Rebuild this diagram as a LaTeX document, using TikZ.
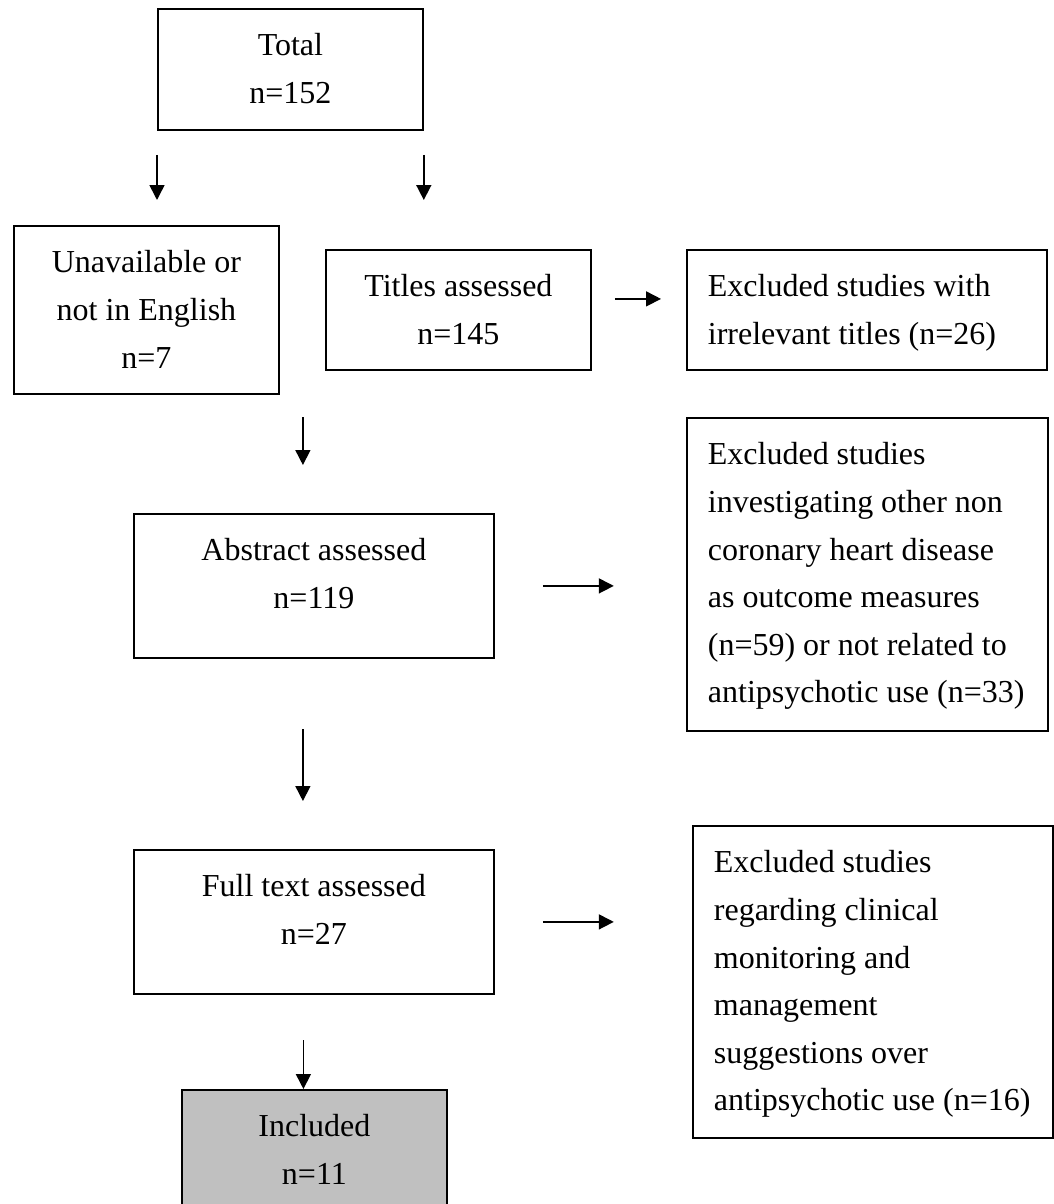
\documentclass[tikz,border=0pt]{standalone}
\usepackage{fontspec}
\setmainfont{Liberation Serif}
\usetikzlibrary{arrows.meta}

\definecolor{boxgray}{RGB}{192,192,192}

% box contents: fixed-size parbox, first baseline 47pt below the top edge
\newcommand\ctext[3]{\parbox[c][#2][t]{#1}{\vspace*{23pt}\centering\rule{0pt}{24pt}#3}}
\newcommand\ltext[3]{\parbox[c][#2][t]{#1}{\vspace*{23pt}\raggedright\leftskip=21pt\rule{0pt}{24pt}#3}}

\tikzset{
  stagebox/.style={draw, line width=1.8pt, inner sep=0pt, anchor=north west},
  flowarrow/.style={line width=1.6pt, -{Triangle[width=15pt,length=15pt]}}
}

\begin{document}
\begin{tikzpicture}[x=1pt, y=1pt, font=\fontsize{32pt}{47.6pt}\selectfont]
\clip (0,0) rectangle (1054,-1204);
\fill[white] (0,0) rectangle (1054,-1204);

% screening stages
\node[stagebox] (total) at (157,-8) {\ctext{265pt}{121pt}{Total\\n=152}};
\node[stagebox] (unav) at (13,-225) {\ctext{265pt}{168pt}{Unavailable or\\not in English\\n=7}};
\node[stagebox] (titles) at (325,-249) {\ctext{265pt}{120pt}{Titles assessed\\n=145}};
\node[stagebox] (excl1) at (686,-249) {\ltext{360pt}{120pt}{Excluded studies with\\irrelevant titles (n=26)}};
\node[stagebox] (abstract) at (133,-513) {\ctext{360pt}{144pt}{Abstract assessed\\n=119}};
\node[stagebox] (excl2) at (686,-417) {\ltext{361pt}{313pt}{Excluded studies\\investigating other non\\coronary heart disease\\as outcome measures\\(n=59) or not related to\\antipsychotic use (n=33)}};
\node[stagebox] (fulltext) at (133,-849) {\ctext{360pt}{144pt}{Full text assessed\\n=27}};
\node[stagebox] (excl3) at (692,-825) {\ltext{360pt}{312pt}{Excluded studies\\regarding clinical\\monitoring and\\management\\suggestions over\\antipsychotic use (n=16)}};
\node[stagebox, fill=boxgray] (included) at (181,-1089) {\ctext{265pt}{121pt}{Included\\n=11}};

% arrows between the stages
\draw[flowarrow] ([yshift=-24pt]total.south west) -- ([yshift=25pt]total.west |- unav.north);
\draw[flowarrow] ([yshift=-24pt]total.south east) -- ([yshift=49pt]total.east |- titles.north);
\draw[flowarrow] ([shift={(23pt,11pt)}]titles.east) -- ([shift={(-25pt,11pt)}]excl1.west);
\draw[flowarrow] ([shift={(-11pt,96pt)}]abstract.north) -- ([shift={(-11pt,48pt)}]abstract.north);
\draw[flowarrow] ([xshift=48pt]abstract.east) -- ([xshift=119pt]abstract.east);
\draw[flowarrow] ([shift={(-11pt,120pt)}]fulltext.north) -- ([shift={(-11pt,48pt)}]fulltext.north);
\draw[flowarrow] ([xshift=48pt]fulltext.east) -- ([xshift=119pt]fulltext.east);
\draw[flowarrow] ([shift={(-11pt,49pt)}]included.north) -- ([xshift=-11pt]included.north);
\end{tikzpicture}
\end{document}
